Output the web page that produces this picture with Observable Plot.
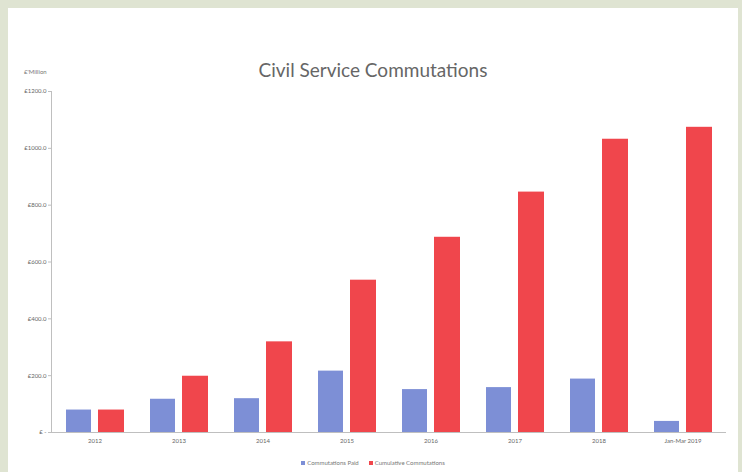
<!DOCTYPE html>
<html><head><meta charset="utf-8">
<script src="https://cdn.jsdelivr.net/npm/d3@7"></script>
<script src="https://cdn.jsdelivr.net/npm/@observablehq/plot@0.6"></script>
<style>
body{margin:0;background:#dfe4d2;width:742px;height:472px;overflow:hidden;font-family:Lato,"Open Sans",sans-serif}
#panel{position:absolute;left:8px;top:8px;width:730px;height:470px;background:#fff}
#title{position:absolute;left:0;width:730px;top:51px;line-height:22px;text-align:center;font-size:19px;color:#666}
#ylab{position:absolute;left:16px;top:60px;line-height:7px;font-size:6px;color:#777}
#chart{position:absolute;left:0;top:50px}
#legend{position:absolute;top:451px;left:0;width:730px;line-height:8px;text-align:center;font-size:6px;color:#777}
#legend span.sw{display:inline-block;width:4px;height:4px;margin-right:2px;vertical-align:middle}
#legend span.it{margin:0 5px}
</style></head>
<body>
<div id="panel">
  <div id="title">Civil Service Commutations</div>
  <div id="ylab">£'Million</div>
  <div id="chart"></div>
  <div id="legend"></div>
</div>
<script>
const categories = ["2012","2013","2014","2015","2016","2017","2018","Jan-Mar 2019"];
const paid = [79, 117, 119, 216, 151, 158, 188, 39];
const cumulative = [79, 198, 319, 536, 687, 846, 1032, 1074];
const yTicks = [0, 200, 400, 600, 800, 1000, 1200];
const seriesNames = ["Commutations Paid", "Cumulative Commutations"];
const seriesColors = ["#7d8fd6", "#f0464c"];

const paidRows = categories.map((c, i) => ({cat: c, value: paid[i]}));
const cumRows = categories.map((c, i) => ({cat: c, value: cumulative[i]}));

const chart = Plot.plot({
  width: 730,
  height: 394,
  marginTop: 33,
  marginBottom: 20,
  marginLeft: 43,
  marginRight: 12,
  style: {fontFamily: "Lato, 'Open Sans', sans-serif", color: "#666", background: "transparent"},
  x: {domain: categories, paddingInner: 0.3, paddingOuter: 0.15, label: null},
  y: {domain: [0, 1200], label: null},
  marks: [
    Plot.barY(paidRows, {x: "cat", y: "value", fill: seriesColors[0], insetLeft: 1, insetRight: 33}),
    Plot.barY(cumRows, {x: "cat", y: "value", fill: seriesColors[1], insetLeft: 33, insetRight: 0}),
    Plot.ruleY([0], {stroke: "#bfbfbf"}),
    Plot.frame({anchor: "left", stroke: "#bfbfbf"}),
    Plot.axisY({ticks: yTicks, tickSize: 3, tickPadding: 2, fontSize: 6, stroke: "#bfbfbf",
      tickFormat: d => d === 0 ? "£ -" : "£" + d.toFixed(1), label: null}),
    Plot.axisX({tickSize: 0, tickPadding: 6, fontSize: 6, label: null})
  ]
});
document.getElementById("chart").appendChild(chart);

const legend = document.getElementById("legend");
seriesNames.forEach((n, i) => {
  const it = document.createElement("span");
  it.className = "it";
  const sw = document.createElement("span");
  sw.className = "sw";
  sw.style.background = seriesColors[i];
  it.appendChild(sw);
  it.appendChild(document.createTextNode(n));
  legend.appendChild(it);
});
</script>
</body></html>
